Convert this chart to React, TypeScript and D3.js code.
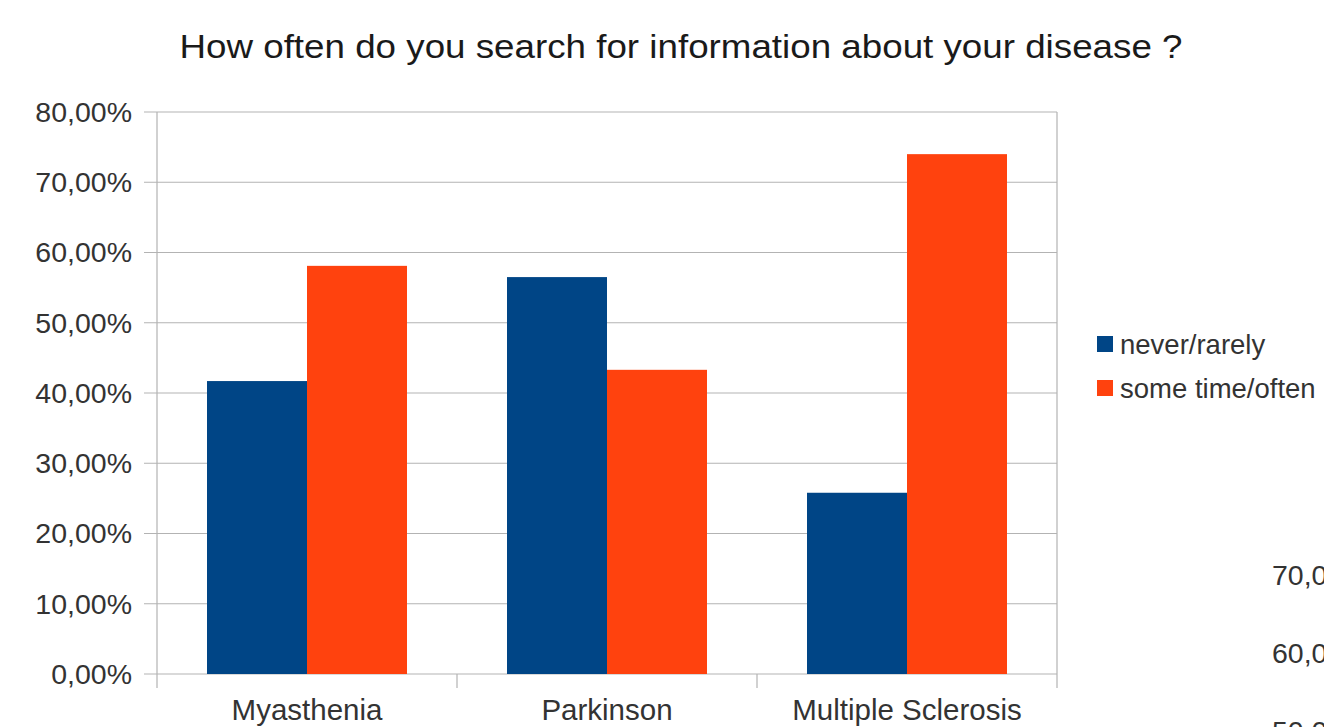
import React from "react";
import * as d3 from "d3";

const categories = ["Myasthenia", "Parkinson", "Multiple Sclerosis"];
const seriesNames = ["never/rarely", "some time/often"];
const neverRarely = [0.417, 0.565, 0.258];
const someTimeOften = [0.581, 0.433, 0.740];
const yTicks = [0, 0.1, 0.2, 0.3, 0.4, 0.5, 0.6, 0.7, 0.8];
// labels of the neighbouring chart peeking in at the right edge
const neighbourTicks = ["70,00%", "60,00%", "50,00%"];

const colors = ["#004586", "#ff420e"];
const FONT = "'Liberation Sans', Arial, sans-serif";

export default function App() {
  const W = 1324;
  const H = 727;
  const left = 157;
  const right = 1057;
  const top = 112;
  const bottom = 674;

  const x = d3.scaleBand<string>().domain(categories).range([left, right]).paddingInner(0).paddingOuter(0);
  const y = d3.scaleLinear().domain([0, 0.8]).range([bottom, top]);
  const inner = d3.scaleBand<number>().domain([0, 1]).range([0, x.bandwidth()]).paddingInner(0).paddingOuter(0.5);

  const series = [neverRarely, someTimeOften];
  const fmt = (v: number) => (v * 100).toFixed(2).replace(".", ",") + "%";
  const grid = "#b3b3b3";

  return (
    <svg width={W} height={H} style={{ position: "absolute", left: 0, top: 0, background: "#fff" }} fontFamily={FONT}>
      <text x={681} y={58} textAnchor="middle" fontSize={34} fill="#1a1a1a" textLength={1003} lengthAdjust="spacingAndGlyphs">
        How often do you search for information about your disease ?
      </text>

      {yTicks.map((t) => (
        <g key={t}>
          <line x1={left - 13} x2={right} y1={y(t)} y2={y(t)} stroke={grid} strokeWidth={1.2} />
          <text x={132} y={y(t)} dy="0.35em" textAnchor="end" fontSize={28.5} fill="#333">
            {fmt(t)}
          </text>
        </g>
      ))}
      <line x1={left} x2={left} y1={top} y2={bottom} stroke={grid} strokeWidth={1.2} />
      <line x1={right} x2={right} y1={top} y2={bottom} stroke={grid} strokeWidth={1.2} />

      {categories.map((c, i) =>
        series.map((s, k) => (
          <rect
            key={c + k}
            x={(x(c) as number) + (inner(k) as number)}
            width={inner.bandwidth()}
            y={y(s[i])}
            height={bottom - y(s[i])}
            fill={colors[k]}
          />
        ))
      )}

      {[...categories.map((c) => x(c) as number), right].map((tx, i) => (
        <line key={i} x1={tx} x2={tx} y1={bottom} y2={bottom + 14} stroke={grid} strokeWidth={1.2} />
      ))}
      {categories.map((c) => (
        <text key={c} x={(x(c) as number) + x.bandwidth() / 2} y={720} textAnchor="middle" fontSize={29.5} fill="#333">
          {c}
        </text>
      ))}

      {seriesNames.map((n, k) => (
        <g key={n}>
          <rect x={1097} y={336 + k * 44} width={16} height={16} fill={colors[k]} />
          <text x={1120} y={344 + k * 44} dy="0.35em" fontSize={27.5} fill="#333">
            {n}
          </text>
        </g>
      ))}

      {neighbourTicks.map((t, i) => (
        <text key={t} x={1272} y={585 + i * 78} fontSize={28.5} fill="#333">
          {t}
        </text>
      ))}
    </svg>
  );
}
